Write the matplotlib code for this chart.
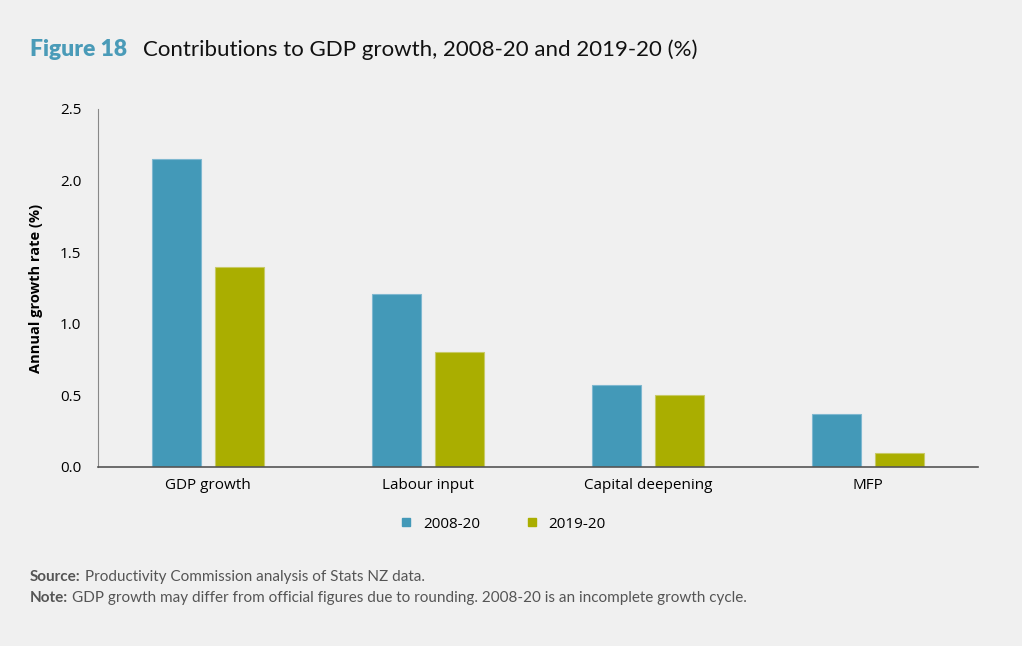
import matplotlib.pyplot as plt
from matplotlib.lines import Line2D
import numpy as np

categories = ["GDP growth", "Labour input", "Capital deepening", "MFP"]
series_names = ["2008-20", "2019-20"]
values_2008_20 = [2.15, 1.21, 0.57, 0.37]
values_2019_20 = [1.40, 0.80, 0.50, 0.10]
y_ticks = [0.0, 0.5, 1.0, 1.5, 2.0, 2.5]

notes = [("Source:", "Productivity Commission analysis of Stats NZ data."),
         ("Note:", "GDP growth may differ from official figures due to rounding. 2008-20 is an incomplete growth cycle.")]

blue = "#4399b8"
olive = "#aaae00"
bg = "#f0f0f0"
W, H = 1022, 646

fig = plt.figure(figsize=(W / 100, H / 100), dpi=100, facecolor=bg)
ax = fig.add_axes([98 / W, 179 / H, 880 / W, 358 / H], facecolor=bg)

x = np.arange(len(categories))
w = 0.223
off = 0.143
ax.bar(x - off, values_2008_20, w, color=blue, edgecolor="#7fb8d0", linewidth=0.8)
ax.bar(x + off, values_2019_20, w, color=olive, edgecolor="#c8ca66", linewidth=0.8)

ax.set_xlim(-0.5, 3.5)
ax.set_ylim(0, 2.5)
ax.set_yticks(y_ticks)
ax.set_yticklabels([f"{t:.1f}" for t in y_ticks], fontsize=11, family="Open Sans")
ax.set_xticks(x)
ax.set_xticklabels(categories, fontsize=11, family="Open Sans")
ax.tick_params(axis="both", length=0)
ax.tick_params(axis="y", pad=12)
ax.tick_params(axis="x", pad=8)
for s in ["top", "right"]:
    ax.spines[s].set_visible(False)
ax.spines["left"].set_color("#888888")
ax.spines["bottom"].set_color("#555555")
ax.spines["bottom"].set_linewidth(1.2)

fig.text(36 / W, 1 - 288 / H, "Annual growth rate (%)", rotation=90, ha="center", va="center",
         fontsize=10.5, fontweight="bold", family="Open Sans")

handles = [Line2D([], [], marker="s", linestyle="", color=blue, markersize=5.5),
           Line2D([], [], marker="s", linestyle="", color=olive, markersize=5.5)]
fig.legend(handles, series_names, loc="center", bbox_to_anchor=(503 / W, 1 - 524 / H), ncol=2,
           frameon=False, prop={"family": "Open Sans", "size": 11}, columnspacing=3.0,
           handlelength=0.8, handletextpad=0.7)

fig.text(30 / W, 1 - 50 / H, "Figure 18", fontsize=16.5, fontweight="heavy", color="#4a9bb8",
         family="Lato", va="center")
fig.text(143 / W, 1 - 50 / H, "Contributions to GDP growth, 2008-20 and 2019-20 (%)", fontsize=16,
         color="#111111", family="Lato", va="center")

renderer = fig.canvas.get_renderer()
for i, (head, body) in enumerate(notes):
    yy = 1 - (577 + 21 * i) / H
    t = fig.text(30 / W, yy, head, fontsize=11, fontweight="bold", color="#555555", family="Lato", va="center")
    bb = t.get_window_extent(renderer)
    fig.text((bb.x1 + 4) / W, yy, body, fontsize=11, color="#555555", family="Lato", va="center")

plt.savefig("out.png", dpi=100, facecolor=bg)
